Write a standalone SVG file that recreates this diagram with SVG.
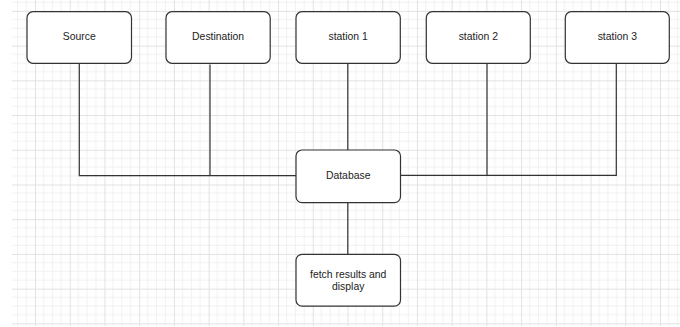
<svg xmlns="http://www.w3.org/2000/svg" width="680" height="327" viewBox="0 0 680 327">
  <style>
    .box { fill: #ffffff; stroke: #333333; stroke-width: 1.2; }
    .wire { fill: none; stroke: #333333; stroke-width: 1.2; }
    .label { font-family: "Liberation Sans", Arial, sans-serif; font-size: 10.4px; fill: #222222; text-anchor: middle; }
  </style>
  <defs>
    <!-- minor grid lines every 8.68px, major line every 34.72px -->
    <pattern id="grid" patternUnits="userSpaceOnUse" x="0.3" y="10.9" width="34.72" height="34.72">
      <path d="M8.68 0V34.72M17.36 0V34.72M26.04 0V34.72M0 8.68H34.72M0 17.36H34.72M0 26.04H34.72" stroke="#f1f1f1" stroke-width="1" fill="none"/>
      <path d="M0.5 0V34.72M0 0.5H34.72" stroke="#e2e2e2" stroke-width="1" fill="none"/>
    </pattern>
  </defs>

  <rect x="0" y="0" width="680" height="327" fill="#ffffff"/>
  <rect x="12" y="0" width="668" height="326" fill="url(#grid)"/>

  <!-- connectors -->
  <g id="connectors">
    <path class="wire" d="M79.3 63.5V175.6H296"/>
    <path class="wire" d="M210 64.5V175.6"/>
    <path class="wire" d="M347.8 63.5V150"/>
    <path class="wire" d="M400.5 175.4H616.3V63.5"/>
    <path class="wire" d="M487 63.5V175.4"/>
    <path class="wire" d="M347.8 202.5V254.3"/>
  </g>

  <g id="source">
    <rect class="box" x="27" y="11.7" width="104.5" height="51.6" rx="6"/>
    <text class="label" x="79.3" y="40.4">Source</text>
  </g>
  <g id="destination">
    <rect class="box" x="166" y="11.7" width="104.2" height="51.6" rx="6"/>
    <text class="label" x="218.1" y="40.4">Destination</text>
  </g>
  <g id="station1">
    <rect class="box" x="296" y="11.7" width="104.3" height="51.6" rx="6"/>
    <text class="label" x="348.1" y="40.4">station 1</text>
  </g>
  <g id="station2">
    <rect class="box" x="426.3" y="11.7" width="104" height="51.6" rx="6"/>
    <text class="label" x="478.3" y="40.4">station 2</text>
  </g>
  <g id="station3">
    <rect class="box" x="565.3" y="11.7" width="104" height="51.6" rx="6"/>
    <text class="label" x="617.3" y="40.4">station 3</text>
  </g>
  <g id="database">
    <rect class="box" x="296" y="150" width="104.5" height="52.6" rx="6"/>
    <text class="label" x="348.2" y="179">Database</text>
  </g>
  <g id="fetch-display">
    <rect class="box" x="296" y="254.3" width="104.5" height="51.8" rx="6"/>
    <text class="label" x="348.2" y="277.6">fetch results and</text>
    <text class="label" x="348.2" y="289.6">display</text>
  </g>
</svg>
